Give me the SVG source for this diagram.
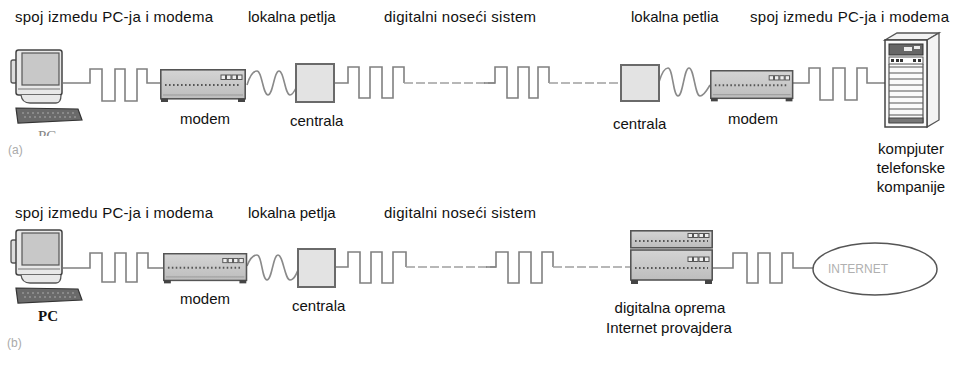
<svg xmlns="http://www.w3.org/2000/svg" xmlns:xlink="http://www.w3.org/1999/xlink" width="954" height="365" viewBox="0 0 954 365">
  <style>
    .lbl { font-family: "Liberation Sans", Arial, sans-serif; font-size: 15px; fill: #111; }
    .cap { font-family: "Liberation Sans", Arial, sans-serif; font-size: 12px; fill: #aaa; }
    .sig { fill: none; stroke: #808080; stroke-width: 1.6; }
    .dash { fill: none; stroke: #a0a0a0; stroke-width: 1.3; stroke-dasharray: 9 3; }
    .wave { fill: none; stroke: #8a8a8a; stroke-width: 1.6; }
    .box { fill: #e3e3e3; stroke: #6a6a6a; stroke-width: 2; }
  </style>
  <defs>
    <linearGradient id="modemFill" x1="0" y1="0" x2="0" y2="1">
      <stop offset="0" stop-color="#d4d4d4"/>
      <stop offset="1" stop-color="#bdbdbd"/>
    </linearGradient>
    <!-- modem casing, 86 x 34, origin top-left -->
    <g id="modem">
      <rect x="0.8" y="0.8" width="84.4" height="29" fill="url(#modemFill)" stroke="#555" stroke-width="1.6"/>
      <line x1="5" y1="16" x2="81" y2="16" stroke="#555" stroke-width="2" stroke-dasharray="1.6 2.4"/>
      <rect x="61" y="6" width="4.5" height="4.5" fill="#eee" stroke="#555" stroke-width="1"/>
      <rect x="66.5" y="6" width="4.5" height="4.5" fill="#eee" stroke="#555" stroke-width="1"/>
      <rect x="72" y="6" width="4.5" height="4.5" fill="#eee" stroke="#555" stroke-width="1"/>
      <rect x="77.5" y="6" width="4.5" height="4.5" fill="#eee" stroke="#555" stroke-width="1"/>
      <line x1="3" y1="26" x2="83" y2="26" stroke="#999" stroke-width="1"/>
      <rect x="1" y="29.5" width="7" height="3.5" fill="#444"/>
      <rect x="78" y="29.5" width="7" height="3.5" fill="#444"/>
    </g>
    <!-- desktop PC: monitor and keyboard -->
    <g id="pc">
      <rect x="11" y="10" width="6" height="23" rx="2" fill="#ddd" stroke="#555" stroke-width="1.3"/>
      <rect x="16" y="0" width="46" height="45" rx="2.5" fill="#e8e8e8" stroke="#444" stroke-width="1.5"/>
      <rect x="22" y="3" width="37" height="32" fill="#c8c8c8" stroke="#555" stroke-width="1.2"/>
      <line x1="18" y1="39" x2="60" y2="39" stroke="#777" stroke-width="1"/>
      <path d="M21,45 Q22,53 30,53 H56 Q61,53 61,45" fill="#e8e8e8" stroke="#555" stroke-width="1.3"/>
      <polygon points="16,58 78,59 82,70 18,73" fill="#6a6a6a" stroke="#333" stroke-width="1.2"/>
      <line x1="22" y1="63" x2="74" y2="63" stroke="#aaa" stroke-width="1" stroke-dasharray="2 3"/>
      <line x1="24" y1="67" x2="76" y2="67" stroke="#aaa" stroke-width="1" stroke-dasharray="2 3"/>
    </g>
    <clipPath id="pcClip">
      <rect x="0" y="126" width="100" height="10"/>
    </clipPath>
  </defs>

  <!-- connectors: square-wave digital links, analog loops, dashed carrier -->
  <g id="connectors">
    <!-- (a) -->
    <path class="sig" d="M63,83 H90 V69 H102 V101 H115 V69 H125 V101 H137 V69 H147 V83 H160"/>
    <path class="wave" d="M247,85 C250,75 253,71 257,71 C262,71 263,95 268,95 C273,95 274,71 279,71 C284,71 285,95 290,95 C293,95 295,90 297,86"/>
    <path class="sig" d="M334,83 H348 V67 H359 V98 H370 V67 H382 V98 H393 V67 H404 V83"/>
    <path class="dash" d="M404,83 H495"/>
    <path class="sig" d="M484,83 H495 V67 H507 V98 H518 V67 H529 V98 H538 V67 H549 V83"/>
    <path class="dash" d="M549,83 H621"/>
    <path class="wave" d="M659,82 C662,72 665,68 668,68 C673,68 673,96 678,96 C683,96 684,68 689,68 C694,68 695,96 700,96 C704,96 707,90 710,85"/>
    <path class="sig" d="M793,83 H809 V68 H820 V100 H833 V68 H845 V100 H857 V68 H867 V83 H886"/>
    <!-- (b) -->
    <path class="sig" d="M63,268 H90 V253 H102 V282 H115 V253 H126 V282 H137 V253 H148 V268 H163"/>
    <path class="wave" d="M247,266 C250,258 253,255 257,255 C262,255 262,280 267,280 C272,280 273,255 278,255 C283,255 285,280 290,280 C294,280 296,275 298,270"/>
    <path class="sig" d="M335,267 H348 V252 H360 V283 H371 V252 H382 V283 H393 V252 H406 V267"/>
    <path class="dash" d="M406,267 H496"/>
    <path class="sig" d="M486,267 H496 V252 H508 V283 H519 V252 H531 V283 H542 V252 H553 V267"/>
    <path class="dash" d="M553,267 H630"/>
    <path class="sig" d="M713,268 H733 V253 H747 V283 H758 V253 H770 V283 H782 V253 H793 V268 H813"/>
  </g>

  <!-- section labels (a) -->
  <g id="labels-a">
    <text class="lbl" x="15" y="22" textLength="198" lengthAdjust="spacing">spoj izmedu PC-ja i modema</text>
    <text class="lbl" x="248" y="22">lokalna petlja</text>
    <text class="lbl" x="384" y="22" textLength="152" lengthAdjust="spacing">digitalni noseći sistem</text>
    <text class="lbl" x="631" y="22">lokalna petlia</text>
    <text class="lbl" x="750" y="22" textLength="199" lengthAdjust="spacing">spoj izmedu PC-ja i modema</text>
  </g>

  <g id="pc-a">
    <use xlink:href="#pc" x="0" y="50"/>
    <text x="38" y="141" clip-path="url(#pcClip)" font-family="Liberation Serif, serif" font-size="15" fill="#888">PC</text>
  </g>
  <g id="modem-a1">
    <use xlink:href="#modem" x="160" y="69"/>
    <text class="lbl" x="180" y="124">modem</text>
  </g>
  <g id="centrala-a1">
    <rect class="box" x="296" y="64" width="38" height="38"/>
    <text class="lbl" x="290" y="126">centrala</text>
  </g>
  <g id="centrala-a2">
    <rect class="box" x="621" y="65" width="38" height="36"/>
    <text class="lbl" x="613" y="129">centrala</text>
  </g>
  <g id="modem-a2">
    <use xlink:href="#modem" transform="translate(710,70) scale(0.97,0.95)"/>
    <text class="lbl" x="728" y="124">modem</text>
  </g>
  <g id="server-a">
    <polygon points="885,40 897,33 939,33 927,40" fill="#f2f2f2" stroke="#555" stroke-width="1.3"/>
    <polygon points="927,40 939,33 939,120 927,127" fill="#f4f4f4" stroke="#555" stroke-width="1.3"/>
    <rect x="885" y="40" width="42" height="87" fill="#fafafa" stroke="#444" stroke-width="1.5"/>
    <rect x="889" y="44" width="34" height="11" fill="#666" stroke="#333" stroke-width="1"/>
    <rect x="904" y="47" width="8" height="4" fill="#eee"/>
    <rect x="914" y="46" width="6" height="3" fill="#eee"/>
    <rect x="889" y="57" width="34" height="7" fill="#fff" stroke="#555" stroke-width="1"/>
    <rect x="891" y="59" width="3" height="3" fill="#333"/>
    <rect x="896" y="59" width="3" height="3" fill="#333"/>
    <rect x="900" y="59" width="3" height="3" fill="#333"/>
    <rect x="913" y="59" width="3" height="3" fill="#333"/>
    <rect x="918" y="59" width="3" height="3" fill="#333"/>
    <g stroke="#555" stroke-width="1.2">
      <line x1="889" y1="67" x2="923" y2="67"/>
      <line x1="889" y1="73" x2="923" y2="73"/>
      <line x1="889" y1="79" x2="923" y2="79"/>
      <line x1="889" y1="85" x2="923" y2="85"/>
      <line x1="889" y1="91" x2="923" y2="91"/>
      <line x1="889" y1="97" x2="923" y2="97"/>
      <line x1="889" y1="103" x2="923" y2="103"/>
      <line x1="889" y1="109" x2="923" y2="109"/>
      <line x1="889" y1="115" x2="923" y2="115"/>
    </g>
    <line x1="889" y1="64" x2="889" y2="123" stroke="#555" stroke-width="1.2"/>
    <line x1="923" y1="64" x2="923" y2="123" stroke="#555" stroke-width="1.2"/>
    <rect x="889" y="118" width="34" height="5" fill="#777" stroke="#444" stroke-width="1"/>
    <text class="lbl" x="911" y="154" text-anchor="middle">kompjuter</text>
    <text class="lbl" x="911" y="173" text-anchor="middle">telefonske</text>
    <text class="lbl" x="911" y="192" text-anchor="middle">kompanije</text>
  </g>
  <text class="cap" x="8" y="154">(a)</text>

  <!-- section labels (b) -->
  <g id="labels-b">
    <text class="lbl" x="15" y="218" textLength="198" lengthAdjust="spacing">spoj izmedu PC-ja i modema</text>
    <text class="lbl" x="248" y="218">lokalna petlja</text>
    <text class="lbl" x="384" y="218" textLength="152" lengthAdjust="spacing">digitalni noseći sistem</text>
  </g>

  <g id="pc-b">
    <use xlink:href="#pc" x="0" y="230"/>
    <text x="38" y="321" font-family="Liberation Serif, serif" font-size="15" font-weight="bold" fill="#111">PC</text>
  </g>
  <g id="modem-b">
    <use xlink:href="#modem" transform="translate(163,253) scale(0.98,0.92)"/>
    <text class="lbl" x="180" y="304">modem</text>
  </g>
  <g id="centrala-b">
    <rect class="box" x="298" y="249" width="37" height="38"/>
    <text class="lbl" x="292" y="311">centrala</text>
  </g>
  <g id="isp-b">
    <g transform="translate(630,230)">
      <rect x="0.8" y="0.8" width="81.4" height="17" fill="url(#modemFill)" stroke="#555" stroke-width="1.6"/>
      <line x1="5" y1="11" x2="78" y2="11" stroke="#555" stroke-width="2" stroke-dasharray="1.6 2.4"/>
      <rect x="58" y="3.5" width="4.5" height="4" fill="#eee" stroke="#555" stroke-width="1"/>
      <rect x="63.5" y="3.5" width="4.5" height="4" fill="#eee" stroke="#555" stroke-width="1"/>
      <rect x="69" y="3.5" width="4.5" height="4" fill="#eee" stroke="#555" stroke-width="1"/>
      <rect x="74.5" y="3.5" width="4.5" height="4" fill="#eee" stroke="#555" stroke-width="1"/>
      <rect x="0.8" y="20" width="81.4" height="30" fill="url(#modemFill)" stroke="#555" stroke-width="1.6"/>
      <line x1="5" y1="38" x2="78" y2="38" stroke="#555" stroke-width="2" stroke-dasharray="1.6 2.4"/>
      <rect x="58" y="27" width="4.5" height="4.5" fill="#eee" stroke="#555" stroke-width="1"/>
      <rect x="63.5" y="27" width="4.5" height="4.5" fill="#eee" stroke="#555" stroke-width="1"/>
      <rect x="69" y="27" width="4.5" height="4.5" fill="#eee" stroke="#555" stroke-width="1"/>
      <rect x="74.5" y="27" width="4.5" height="4.5" fill="#eee" stroke="#555" stroke-width="1"/>
      <rect x="1" y="50" width="7" height="4" fill="#444"/>
      <rect x="75" y="50" width="7" height="4" fill="#444"/>
    </g>
    <text class="lbl" x="670" y="313" text-anchor="middle">digitalna oprema</text>
    <text class="lbl" x="669" y="333" text-anchor="middle">Internet provajdera</text>
  </g>
  <g id="internet-b">
    <ellipse cx="875" cy="269" rx="62" ry="26" fill="#fff" stroke="#555" stroke-width="1.5"/>
    <text x="858" y="273" text-anchor="middle" font-family="Liberation Sans, Arial, sans-serif" font-size="12" fill="#b0b0b0">INTERNET</text>
  </g>
  <text class="cap" x="7" y="347">(b)</text>
</svg>
